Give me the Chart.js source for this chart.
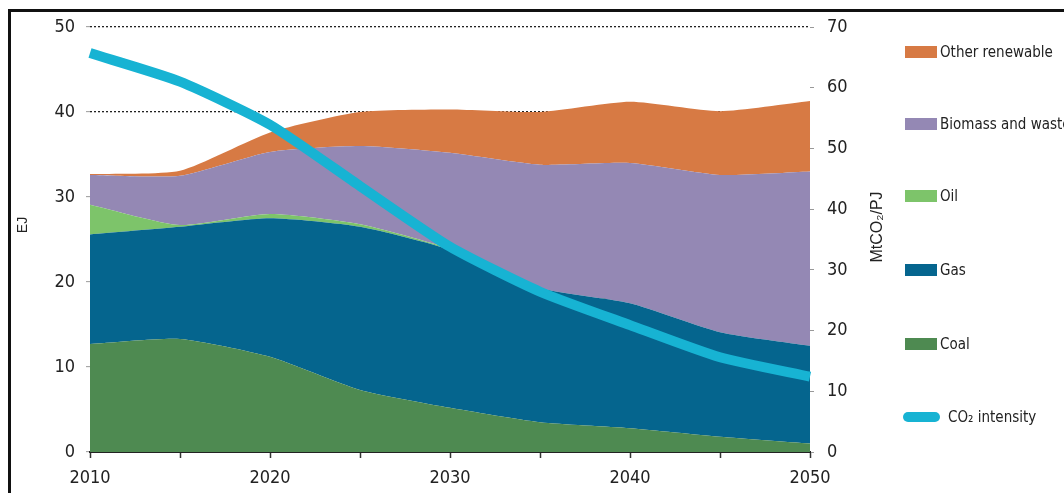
<!DOCTYPE html>
<html lang="en">
<head>
    <meta charset="UTF-8">
    <title>Primary energy mix (EJ) and CO2 intensity</title>
    <script src="https://cdn.jsdelivr.net/npm/chart.js"></script>
    <style>
        body, html {
            margin: 0;
            padding: 0;
            width: 1064px;
            height: 493px;
            overflow: hidden;
            background: #fff;
            font-family: 'Liberation Sans Narrow', 'DejaVu Sans Condensed', sans-serif;
        }
        #frame {
            position: absolute;
            left: 8px;
            top: 9px;
            width: 1100px;
            height: 520px;
            border-left: 3px solid #111;
            border-top: 3px solid #111;
        }
        #wrap {
            position: absolute;
            left: 0;
            top: 0;
            width: 1064px;
            height: 493px;
        }
        #legend .item {
            position: absolute;
            white-space: nowrap;
            font-size: 15px;
            line-height: 20px;
            color: #222;
            display: flex;
            align-items: center;
        }
        #legend .box { width: 32px; height: 12px; margin-right: 3px; }
        #legend .bar { width: 37px; height: 10px; border-radius: 5px; margin-right: 8px; }
    </style>
</head>
<body>
    <div id="frame"></div>
    <div id="wrap"><canvas id="mixChart"></canvas></div>
    <div id="legend"></div>

    <script>
        // data (EJ, left axis; MtCO2/PJ, right axis)
        const years = ['2010', '2015', '2020', '2025', '2030', '2035', '2040', '2045', '2050'];
        const coal = [12.7, 13.3, 11.2, 7.3, 5.2, 3.5, 2.8, 1.8, 1.0];
        const gas = [12.9, 13.2, 16.3, 19.2, 18.6, 15.8, 14.7, 12.3, 11.5];
        const oil = [3.5, 0.2, 0.5, 0.3, 0.1, 0, 0, 0, 0];
        const biomass = [3.5, 5.8, 7.3, 9.2, 11.3, 14.5, 16.5, 18.5, 20.5];
        const otherRenewable = [0.1, 0.6, 2.3, 4.0, 5.1, 6.2, 7.2, 7.5, 8.3];
        const co2Intensity = [65.7, 61.0, 53.9, 43.8, 33.8, 26.4, 20.9, 15.6, 12.4];
        const ejTicks = [0, 10, 20, 30, 40, 50];
        const intensityTicks = [0, 10, 20, 30, 40, 50, 60, 70];

        const leftTitle = 'EJ';
        const rightTitle = 'MtCO₂/PJ';

        const colors = {
            coal: '#4e8a51',
            gas: '#05658e',
            oil: '#7dc46a',
            biomass: '#9488b4',
            other: '#d77a44',
            co2: '#17b3d3'
        };

        const tickFont = { family: "'Liberation Sans Narrow', 'DejaVu Sans Condensed', sans-serif", size: 18 };

        const area = (label, data, color, fill) => ({
            label: label,
            data: data,
            yAxisID: 'y',
            backgroundColor: color,
            borderColor: 'transparent',
            borderWidth: 0,
            pointRadius: 0,
            fill: fill,
            tension: 0.2,
            order: 1
        });

        const datasets = [
            area('Coal', coal, colors.coal, 'origin'),
            area('Gas', gas, colors.gas, '-1'),
            area('Oil', oil, colors.oil, '-1'),
            area('Biomass and waste', biomass, colors.biomass, '-1'),
            area('Other renewable', otherRenewable, colors.other, '-1'),
            {
                label: 'CO₂ intensity',
                data: co2Intensity,
                yAxisID: 'y2',
                borderColor: colors.co2,
                borderWidth: 10,
                pointRadius: 0,
                fill: false,
                tension: 0.2,
                order: 0
            }
        ];

        // axis titles drawn by hand: the right one reads bottom to top
        const axisTitles = {
            id: 'axisTitles',
            afterDraw(chart) {
                const ctx = chart.ctx;
                ctx.save();
                ctx.fillStyle = '#222';
                ctx.textAlign = 'center';
                ctx.textBaseline = 'middle';
                ctx.font = "14px 'Liberation Sans', sans-serif";
                ctx.translate(23, 225);
                ctx.rotate(-Math.PI / 2);
                ctx.fillText(leftTitle, 0, 0);
                ctx.restore();

                ctx.save();
                ctx.fillStyle = '#222';
                ctx.textAlign = 'center';
                ctx.textBaseline = 'middle';
                ctx.font = "16px 'Liberation Sans', sans-serif";
                ctx.translate(878, 227);
                ctx.rotate(-Math.PI / 2);
                ctx.fillText(rightTitle, 0, 0);
                ctx.restore();
            }
        };

        const ctx = document.getElementById('mixChart').getContext('2d');
        new Chart(ctx, {
            type: 'line',
            data: { labels: years, datasets: datasets },
            plugins: [axisTitles],
            options: {
                responsive: true,
                maintainAspectRatio: false,
                animation: false,
                layout: { padding: { top: 27, left: 0, right: 194, bottom: 0 } },
                plugins: {
                    legend: { display: false },
                    tooltip: { enabled: false }
                },
                scales: {
                    x: {
                        type: 'category',
                        offset: false,
                        grid: { drawOnChartArea: false, drawTicks: true, tickLength: 6, tickColor: '#333', tickWidth: 1.5 },
                        border: { display: true, color: '#222', width: 2 },
                        ticks: {
                            autoSkip: false,
                            maxRotation: 0,
                            padding: 10,
                            color: '#222',
                            font: tickFont,
                            callback: (v, i) => (Number(years[i]) % 10 === 0 ? years[i] : '')
                        },
                        afterFit: s => { s.height = 41; }
                    },
                    y: {
                        stacked: true,
                        min: ejTicks[0],
                        max: ejTicks[ejTicks.length - 1],
                        afterBuildTicks: s => { s.ticks = ejTicks.map(v => ({ value: v })); },
                        ticks: { padding: 11, color: '#222', font: tickFont },
                        grid: { color: '#222', lineWidth: 1.3, drawTicks: true, tickLength: 4, tickColor: '#999', tickWidth: 1 },
                        border: { display: false, dash: [2, 2] },
                        afterFit: s => { s.width = 90; }
                    },
                    y2: {
                        position: 'right',
                        min: intensityTicks[0],
                        max: intensityTicks[intensityTicks.length - 1],
                        afterBuildTicks: s => { s.ticks = intensityTicks.map(v => ({ value: v })); },
                        ticks: { padding: 13, color: '#222', font: tickFont },
                        grid: { drawOnChartArea: false, drawTicks: true, tickLength: 4, tickColor: '#999' },
                        border: { display: false },
                        afterFit: s => { s.width = 60; }
                    }
                }
            }
        });

        // legend to the right, top to bottom
        const legendItems = [
            { label: 'Other renewable', color: colors.other, y: 52 },
            { label: 'Biomass and waste', color: colors.biomass, y: 124 },
            { label: 'Oil', color: colors.oil, y: 196 },
            { label: 'Gas', color: colors.gas, y: 270 },
            { label: 'Coal', color: colors.coal, y: 344 },
            { label: 'CO₂ intensity', color: colors.co2, y: 417, line: true }
        ];
        const legend = document.getElementById('legend');
        legendItems.forEach(it => {
            const div = document.createElement('div');
            div.className = 'item';
            div.style.left = (it.line ? 903 : 905) + 'px';
            div.style.top = (it.y - 10) + 'px';
            const sw = document.createElement('span');
            sw.className = it.line ? 'bar' : 'box';
            sw.style.background = it.color;
            const txt = document.createElement('span');
            txt.textContent = it.label;
            div.appendChild(sw);
            div.appendChild(txt);
            legend.appendChild(div);
        });
    </script>
</body>
</html>
